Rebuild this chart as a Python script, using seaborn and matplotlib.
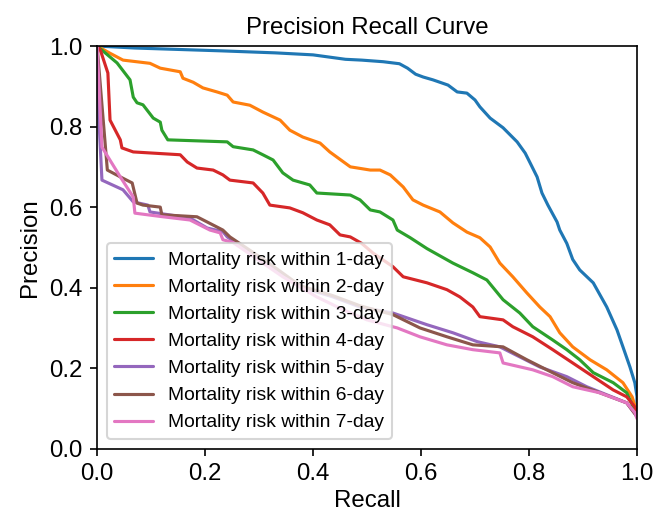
import numpy as np
import pandas as pd
import matplotlib
matplotlib.use('Agg')
import matplotlib.pyplot as plt
import seaborn as sns

labels = ['Mortality risk within %d-day' % d for d in range(1, 8)]

# recall / precision points
r1 = [0, 0.07, 0.23, 0.33, 0.40, 0.46, 0.49, 0.53, 0.56, 0.575, 0.59, 0.604, 0.622, 0.65, 0.667, 0.685, 0.70,
      0.709, 0.728, 0.752, 0.778, 0.793, 0.802, 0.815, 0.824, 0.835, 0.852, 0.857, 0.87, 0.881, 0.894, 0.919,
      0.944, 0.963, 0.974, 0.987, 0.996, 1.0, 1.0]
p1 = [1.0, 0.995, 0.988, 0.983, 0.978, 0.967, 0.965, 0.961, 0.956, 0.945, 0.93, 0.923, 0.916, 0.903, 0.886, 0.883, 0.866,
      0.849, 0.821, 0.797, 0.762, 0.734, 0.71, 0.675, 0.635, 0.605, 0.563, 0.543, 0.51, 0.47, 0.444, 0.412,
      0.352, 0.295, 0.253, 0.203, 0.164, 0.13, 0.09]

r2 = [0, 0.024, 0.048, 0.098, 0.117, 0.154, 0.159, 0.178, 0.196, 0.222, 0.241, 0.252, 0.283, 0.307, 0.339, 0.357,
      0.381, 0.413, 0.431, 0.469, 0.506, 0.524, 0.543, 0.567, 0.585, 0.604, 0.635, 0.659, 0.685, 0.709, 0.728,
      0.746, 0.77, 0.796, 0.82, 0.839, 0.857, 0.881, 0.913, 0.944, 0.974, 0.991, 1.0]
p2 = [1.0, 0.982, 0.965, 0.957, 0.945, 0.936, 0.92, 0.91, 0.896, 0.886, 0.878, 0.861, 0.853, 0.836, 0.816, 0.791,
      0.774, 0.759, 0.737, 0.70, 0.692, 0.692, 0.68, 0.65, 0.618, 0.605, 0.588, 0.561, 0.538, 0.524, 0.501,
      0.461, 0.427, 0.387, 0.352, 0.328, 0.288, 0.253, 0.221, 0.196, 0.164, 0.129, 0.09]

r3 = [0, 0.037, 0.061, 0.067, 0.074, 0.085, 0.104, 0.117, 0.12, 0.131, 0.241, 0.252, 0.289, 0.307, 0.326, 0.344,
      0.363, 0.394, 0.407, 0.469, 0.487, 0.506, 0.524, 0.548, 0.556, 0.58, 0.611, 0.659, 0.696, 0.722, 0.752,
      0.783, 0.807, 0.844, 0.87, 0.894, 0.919, 0.956, 0.981, 0.993, 1.0]
p3 = [1.0, 0.958, 0.916, 0.873, 0.859, 0.854, 0.821, 0.811, 0.791, 0.767, 0.762, 0.75, 0.742, 0.73, 0.717, 0.685,
      0.667, 0.655, 0.635, 0.63, 0.618, 0.593, 0.588, 0.568, 0.543, 0.524, 0.497, 0.461, 0.437, 0.419, 0.37,
      0.337, 0.303, 0.27, 0.246, 0.221, 0.189, 0.164, 0.139, 0.104, 0.085]

r4 = [0, 0.006, 0.02, 0.024, 0.043, 0.046, 0.067, 0.154, 0.167, 0.185, 0.215, 0.233, 0.246, 0.289, 0.307, 0.32,
      0.357, 0.381, 0.407, 0.431, 0.45, 0.469, 0.49, 0.511, 0.548, 0.567, 0.611, 0.648, 0.672, 0.696, 0.709,
      0.752, 0.77, 0.807, 0.844, 0.881, 0.919, 0.956, 0.981, 0.996, 1.0]
p4 = [1.0, 0.99, 0.933, 0.816, 0.767, 0.747, 0.737, 0.73, 0.712, 0.697, 0.692, 0.68, 0.667, 0.66, 0.635, 0.605,
      0.598, 0.586, 0.568, 0.556, 0.531, 0.526, 0.51, 0.486, 0.452, 0.427, 0.412, 0.395, 0.377, 0.352, 0.328,
      0.32, 0.303, 0.278, 0.246, 0.213, 0.179, 0.146, 0.129, 0.104, 0.085]

r5 = [0, 0.004, 0.009, 0.048, 0.067, 0.094, 0.098, 0.172, 0.204, 0.233, 0.241, 0.314, 0.376, 0.437, 0.487, 0.548,
      0.611, 0.659, 0.704, 0.746, 0.783, 0.82, 0.87, 0.907, 0.944, 0.981, 1.0]
p5 = [1.0, 0.8, 0.667, 0.643, 0.613, 0.605, 0.588, 0.573, 0.548, 0.539, 0.526, 0.461, 0.402, 0.377, 0.352, 0.337,
      0.308, 0.288, 0.266, 0.253, 0.228, 0.203, 0.179, 0.154, 0.134, 0.114, 0.08]

r6 = [0, 0.019, 0.043, 0.065, 0.074, 0.085, 0.117, 0.12, 0.185, 0.204, 0.233, 0.246, 0.314, 0.376, 0.437, 0.487,
      0.548, 0.598, 0.648, 0.696, 0.752, 0.796, 0.833, 0.881, 0.931, 0.981, 1.0]
p6 = [1.0, 0.692, 0.675, 0.66, 0.61, 0.605, 0.60, 0.581, 0.576, 0.563, 0.543, 0.526, 0.465, 0.405, 0.38, 0.355,
      0.333, 0.30, 0.278, 0.258, 0.253, 0.221, 0.196, 0.164, 0.139, 0.114, 0.08]

r7 = [0, 0.009, 0.043, 0.067, 0.07, 0.122, 0.172, 0.209, 0.228, 0.233, 0.252, 0.344, 0.407, 0.456, 0.5, 0.556,
      0.598, 0.648, 0.696, 0.746, 0.752, 0.807, 0.844, 0.881, 0.931, 0.981, 0.996, 1.0]
p7 = [1.0, 0.749, 0.675, 0.625, 0.585, 0.576, 0.568, 0.543, 0.536, 0.519, 0.512, 0.427, 0.377, 0.345, 0.32, 0.30,
      0.278, 0.258, 0.246, 0.238, 0.213, 0.196, 0.179, 0.154, 0.139, 0.114, 0.09, 0.075]

recalls = [r1, r2, r3, r4, r5, r6, r7]
precisions = [p1, p2, p3, p4, p5, p6, p7]

frames = []
for lab, r, p in zip(labels, recalls, precisions):
    frames.append(pd.DataFrame({'recall': r, 'precision': p, 'model': lab}))
df = pd.concat(frames, ignore_index=True)

sns.set_style('ticks')
plt.rcParams['font.family'] = ['Liberation Sans', 'DejaVu Sans']
plt.rcParams['text.color'] = 'black'
plt.rcParams['axes.labelcolor'] = 'black'

fig = plt.figure(figsize=(656 / 150, 517 / 150), dpi=150)
ax = fig.add_axes([0.148, 0.132, 0.823, 0.779])
sns.lineplot(data=df, x='recall', y='precision', hue='model', palette='tab10',
             estimator=None, sort=False, units='model', linewidth=1.5, ax=ax)

ax.set_xlim(0, 1)
ax.set_ylim(0, 1)
ax.set_xticks([0, 0.2, 0.4, 0.6, 0.8, 1.0])
ax.set_yticks([0, 0.2, 0.4, 0.6, 0.8, 1.0])
ax.tick_params(labelsize=11.5, colors='black', width=0.8, length=3.5)
for s in ax.spines.values():
    s.set_color('black')
    s.set_linewidth(0.8)
ax.set_xlabel('Recall', fontsize=11.5, labelpad=2)
ax.set_ylabel('Precision', fontsize=11.5, labelpad=4)
ax.set_title('Precision Recall Curve', fontsize=11.5)
ax.legend(loc='lower left', fontsize=9.25, title=None)

fig.savefig('out.png', dpi=150)
